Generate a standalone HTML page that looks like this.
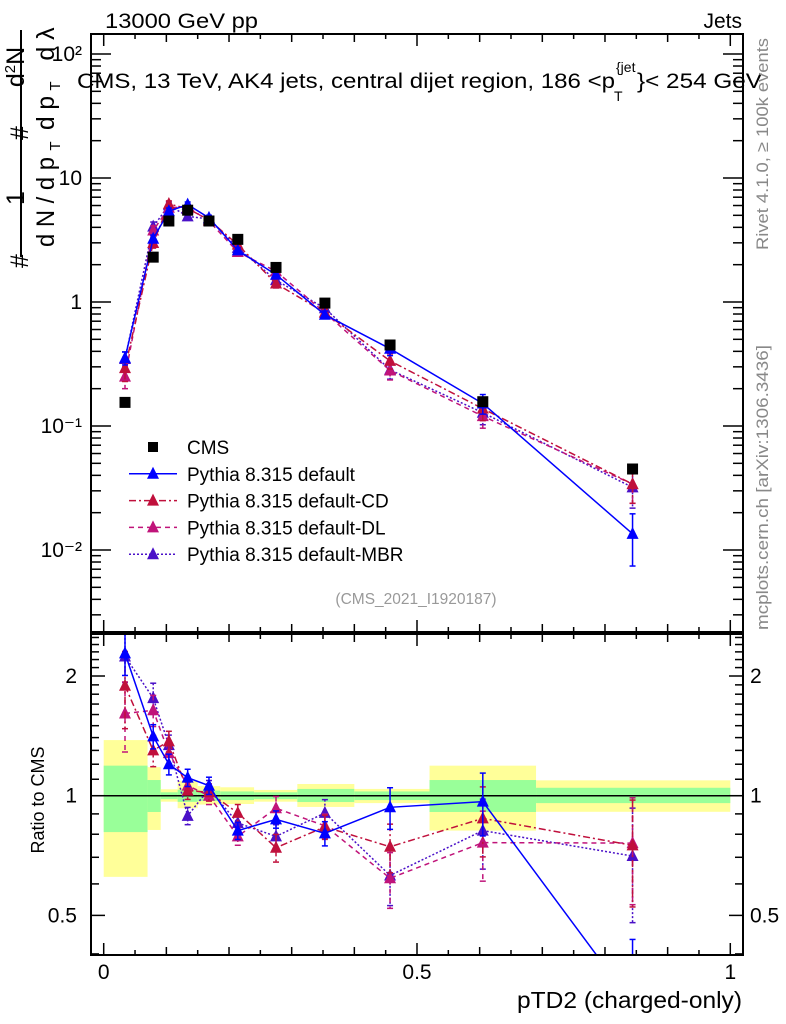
<!DOCTYPE html>
<html><head><meta charset="utf-8"><style>
html,body{margin:0;padding:0;background:#fff;overflow:hidden;width:786px;height:1024px;}
svg{display:block;font-family:"Liberation Sans",sans-serif;}
</style></head><body>
<svg id="chart" width="786" height="1024" viewBox="0 0 786 1024" xmlns="http://www.w3.org/2000/svg">
<defs>
<clipPath id="clipMain"><rect x="91" y="34" width="652" height="598"/></clipPath>
<clipPath id="clipRatio"><rect x="91" y="634" width="652" height="321"/></clipPath>
</defs>
<g id="bands" clip-path="url(#clipRatio)"></g>
<g id="grid"></g>
<g id="series-main" clip-path="url(#clipMain)"></g>
<g id="series-ratio" clip-path="url(#clipRatio)"></g>
<rect x="91" y="34" width="652" height="598" fill="none" stroke="#000" stroke-width="2"/>
<rect x="91" y="634" width="652" height="321" fill="none" stroke="#000" stroke-width="2"/>
<g id="axes"></g>
<text x="105" y="28" font-size="21" textLength="153" lengthAdjust="spacingAndGlyphs">13000 GeV pp</text>
<text x="742" y="28" font-size="21" text-anchor="end">Jets</text>
<g>
<text x="77" y="88" font-size="21" textLength="538" lengthAdjust="spacingAndGlyphs">CMS, 13 TeV, AK4 jets, central dijet region, 186 &lt;p</text>
<text x="616" y="72" font-size="14">{jet</text>
<text x="614" y="101" font-size="14">T</text>
<text x="637" y="88" font-size="21" textLength="125" lengthAdjust="spacingAndGlyphs">}&lt; 254 GeV</text>
</g>
<g font-size="25">
<line x1="21" y1="30" x2="21" y2="257" stroke="#000" stroke-width="2"/>
<text transform="translate(24,198) rotate(-90)" text-anchor="middle">1</text>
<text transform="translate(54,202) rotate(-90)" text-anchor="middle" textLength="90" lengthAdjust="spacingAndGlyphs">d N / d p</text>
<text transform="translate(60,146) rotate(-90)" font-size="15" text-anchor="middle">T</text>
<text transform="translate(28,261) rotate(-90)" text-anchor="middle">#</text>
<text transform="translate(24,67) rotate(-90)" text-anchor="middle">d<tspan font-size="15" dy="-9">2</tspan><tspan dy="9">N</tspan></text>
<text transform="translate(28,133) rotate(-90)" text-anchor="middle">#</text>
<text transform="translate(54,113) rotate(-90)" text-anchor="middle" textLength="34" lengthAdjust="spacingAndGlyphs">d p</text>
<text transform="translate(60,86) rotate(-90)" font-size="15" text-anchor="middle">T</text>
<text transform="translate(54,44) rotate(-90)" text-anchor="middle">d λ</text>
</g>
<text transform="translate(44,800) rotate(-90)" font-size="18" text-anchor="middle">Ratio to CMS</text>
<text x="742" y="1008" font-size="23" text-anchor="end" textLength="225" lengthAdjust="spacingAndGlyphs">pTD2 (charged-only)</text>
<text transform="translate(768,250) rotate(-90)" font-size="17" fill="#888" textLength="212" lengthAdjust="spacingAndGlyphs">Rivet 4.1.0, ≥ 100k events</text>
<text transform="translate(768,630) rotate(-90)" font-size="17" fill="#888" textLength="285" lengthAdjust="spacingAndGlyphs">mcplots.cern.ch [arXiv:1306.3436]</text>
<text x="416" y="604" font-size="15.5" fill="#999" text-anchor="middle">(CMS_2021_I1920187)</text>
<g id="legend"></g>
</svg>
<script>
const xCenters = [0.034,0.079,0.104,0.134,0.168,0.214,0.275,0.353,0.457,0.605,0.844];
const binEdges = [0,0.07,0.091,0.118,0.15,0.186,0.24,0.309,0.4,0.52,0.69,1.0];
const cmsValues = [0.155,2.3,4.5,5.5,4.5,3.2,1.9,0.98,0.45,0.157,0.045];
const defaultValues = [0.353,3.24,5.4,6.1,4.77,2.61,1.66,0.79,0.42,0.152,0.0135];
const cdValues = [0.293,2.99,6.17,5.67,4.59,2.90,1.41,0.82,0.335,0.138,0.034];
const dlValues = [0.25,3.77,5.76,5.83,4.5,2.53,1.77,0.82,0.28,0.12,0.034];
const mbrValues = [0.347,4.05,6.03,4.9,4.68,2.73,1.5,0.89,0.284,0.128,0.032];
const defaultRatio = [2.28,1.41,1.20,1.11,1.06,0.817,0.872,0.804,0.935,0.966,0.30];
const cdRatio = [1.89,1.30,1.37,1.03,1.02,0.905,0.74,0.835,0.744,0.877,0.75];
const dlRatio = [1.61,1.64,1.28,1.06,1.00,0.79,0.93,0.84,0.62,0.762,0.76];
const mbrRatio = [2.24,1.76,1.34,0.89,1.04,0.854,0.79,0.905,0.63,0.817,0.705];
const defaultRelErr = [0.12,0.07,0.06,0.05,0.05,0.05,0.05,0.07,0.12,0.18,0.45];
const cdRelErr = [0.22,0.09,0.06,0.05,0.05,0.05,0.08,0.07,0.14,0.2,0.3];
const dlRelErr = [0.2,0.09,0.06,0.05,0.05,0.05,0.07,0.07,0.16,0.2,0.3];
const mbrRelErr = [0.14,0.09,0.06,0.05,0.05,0.05,0.07,0.08,0.16,0.2,0.32];
const bandOuterHi = [1.38,1.18,1.038,1.09,1.057,1.05,1.034,1.07,1.04,1.19,1.093];
const bandOuterLo = [0.625,0.82,0.966,0.93,0.95,0.953,0.966,0.937,0.958,0.817,0.911];
const bandInnerHi = [1.19,1.095,1.02,1.035,1.03,1.025,1.02,1.04,1.025,1.095,1.047];
const bandInnerLo = [0.81,0.91,0.98,0.965,0.97,0.975,0.98,0.964,0.975,0.91,0.958];
const mainTickLabels = ["10²","10","1","10⁻¹","10⁻²"];
const mainTickValues = [100,10,1,0.1,0.01];
const ratioTickLabels = ["2","1","0.5"];
const ratioTickValues = [2,1,0.5];
const xTickLabels = ["0","0.5","1"];
const xTickValues = [0,0.5,1];

const NS="http://www.w3.org/2000/svg";
const X = v => 103.7 + v*626.6;
const Ymain = v => 178 - (Math.log10(v)-1)*124;
const Yratio = v => 795.7 - Math.log10(v)*397.6;
function mk(tag, attrs, parent){const e=document.createElementNS(NS,tag);for(const k in attrs)e.setAttribute(k,attrs[k]);parent.appendChild(e);return e;}

const bands=document.getElementById('bands');
for(let i=0;i<binEdges.length-1;i++){
  const x1=X(binEdges[i]), x2=X(binEdges[i+1]);
  const o=mk('rect',{x:x1,y:Yratio(bandOuterHi[i]),width:x2-x1,height:Yratio(bandOuterLo[i])-Yratio(bandOuterHi[i]),fill:'#ffff99'},bands);
  
  
  const g=mk('rect',{x:x1,y:Yratio(bandInnerHi[i]),width:x2-x1,height:Yratio(bandInnerLo[i])-Yratio(bandInnerHi[i]),fill:'#99ff99'},bands);
  
  
}
const one=mk('line',{x1:91,x2:743,y1:Yratio(1),y2:Yratio(1),stroke:'#000','stroke-width':1.5},bands);



const axes=document.getElementById('axes');
function tick(x1,y1,x2,y2){mk('line',{x1,y1,x2,y2,stroke:'#000','stroke-width':1.5},axes);}
for(let k=0;k<=20;k++){
  const v=k*0.05, x=X(v);
  const L = (k%10===0)?12:(k%2===0?8:5);
  tick(x,34,x,34+L); tick(x,632,x,632-L); tick(x,634,x,634+L); tick(x,955,x,955-L);
}
for(let d=-3;d<=2;d++){
  for(let m=1;m<10;m++){
    const v=m*Math.pow(10,d); const y=Ymain(v);
    if(y<34||y>632)continue;
    const L=m===1?20:10;
    tick(91,y,91+L,y); tick(743,y,743-L,y);
  }
}
const rt=[0.4,0.5,0.6,0.7,0.8,0.9,1,1.1,1.2,1.3,1.4,1.5,1.6,1.7,1.8,1.9,2,2.1,2.2,2.3,2.4,2.5];
rt.forEach(v=>{const y=Yratio(v); if(y<634||y>955)return; const L=(v===0.5||v===1||v===2)?14:8; tick(91,y,91+L,y); tick(743,y,743-L,y);});
mainTickLabels.forEach((t,i)=>{
  const e=mk('text',{x:82,y:Ymain(mainTickValues[i])+7,'font-size':21,'text-anchor':'end'},axes);
  e.textContent=t;
  
  
});
ratioTickLabels.forEach((t,i)=>{
  const y=Yratio(ratioTickValues[i])+7;
  const a=mk('text',{x:77,y,'font-size':21,'text-anchor':'end'},axes); a.textContent=t;
  
  
  const b=mk('text',{x:750,y,'font-size':21},axes); b.textContent=t;
  
  
});
xTickLabels.forEach((t,i)=>{
  const e=mk('text',{x:X(xTickValues[i]),y:979,'font-size':21,'text-anchor':'middle'},axes); e.textContent=t;
  
  
});

const series=[
 {name:'default',vals:defaultValues,ratio:defaultRatio,err:defaultRelErr,color:'#0000ff',dash:'none'},
 {name:'cd',vals:cdValues,ratio:cdRatio,err:cdRelErr,color:'#c0103c',dash:'7,3,2,3'},
 {name:'dl',vals:dlValues,ratio:dlRatio,err:dlRelErr,color:'#c0147a',dash:'5,4'},
 {name:'mbr',vals:mbrValues,ratio:mbrRatio,err:mbrRelErr,color:'#4a10c8',dash:'2,2'}
];
function tri(g,x,y,c){return mk('polygon',{points:`${x},${y-7} ${x-6},${y+5} ${x+6},${y+5}`,fill:c},g);}
function drawSeries(parentId,Yf,valKey,isRatio){
  const parent=document.getElementById(parentId);
  [...series].reverse().forEach(s=>{
    const g=mk('g',{},parent);
    
    
    const vals=s[valKey];
    const pts=vals.map((v,i)=>`${X(xCenters[i])},${Yf(v)}`).join(' ');
    mk('polyline',{points:pts,fill:'none',stroke:s.color,'stroke-width':1.5,'stroke-dasharray':s.dash},g);
    vals.forEach((v,i)=>{
      const x=X(xCenters[i]);
      const yh=Yf(v*(1+s.err[i])), yl=Yf(v*Math.max(0.05,1-s.err[i]));
      mk('line',{x1:x,x2:x,y1:yh,y2:yl,stroke:s.color,'stroke-width':1.5,'stroke-dasharray':s.dash},g);
      mk('line',{x1:x-3,x2:x+3,y1:yh,y2:yh,stroke:s.color,'stroke-width':1.5},g);
      mk('line',{x1:x-3,x2:x+3,y1:yl,y2:yl,stroke:s.color,'stroke-width':1.5},g);
      const t=tri(g,x,Yf(v),s.color);
      
      
    });
  });
}
drawSeries('series-main',Ymain,'vals',false);
drawSeries('series-ratio',Yratio,'ratio',true);
const cmsG=mk('g',{},document.getElementById('series-main'));


cmsValues.forEach((v,i)=>{
  const r=mk('rect',{x:X(xCenters[i])-5.5,y:Ymain(v)-5.5,width:11,height:11,fill:'#000'},cmsG);
  
  
});

const lg=document.getElementById('legend');
const labels=['CMS','Pythia 8.315 default','Pythia 8.315 default-CD','Pythia 8.315 default-DL','Pythia 8.315 default-MBR'];
labels.forEach((t,i)=>{
  const y=447+i*26.8;
  const g=mk('g',{},lg);
  
  
  if(i===0){mk('rect',{x:148,y:y-5,width:10,height:10,fill:'#000'},g);}
  else{const s=series[i-1];
    mk('line',{x1:129,x2:177,y1:y,y2:y,stroke:s.color,'stroke-width':1.5,'stroke-dasharray':s.dash},g);
    tri(g,153,y,s.color);}
  const e=mk('text',{x:187,y:y+7,'font-size':19},g); e.textContent=t;
});
</script>
</body></html>
